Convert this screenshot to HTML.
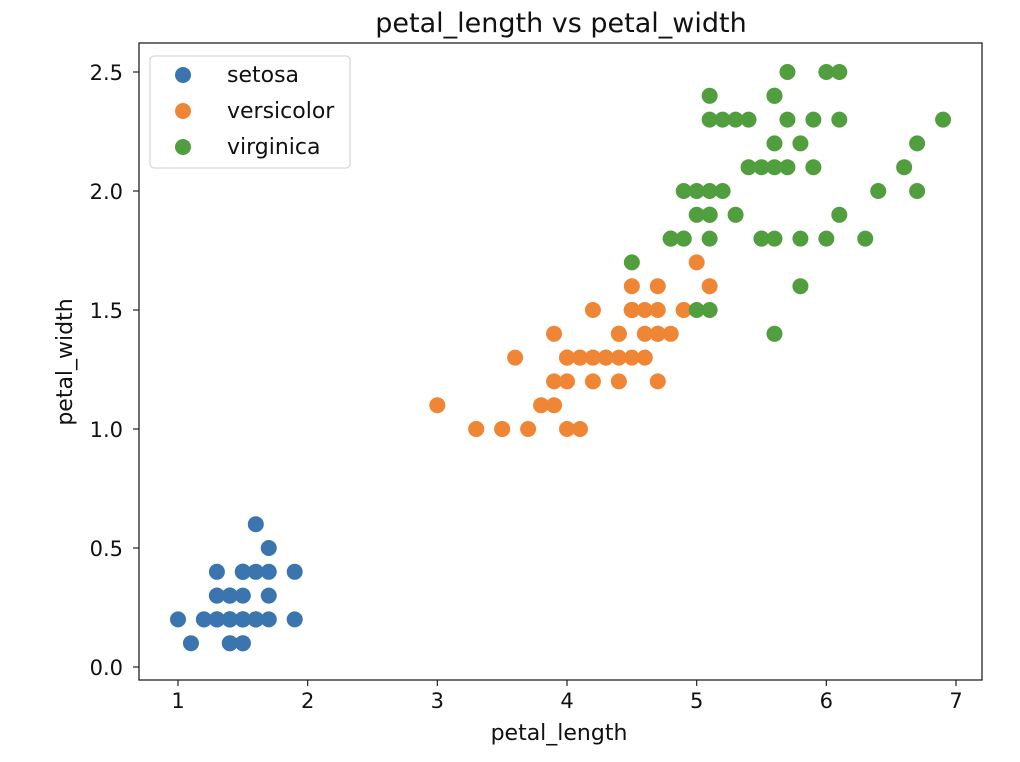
<!DOCTYPE html>
<html><head><meta charset="utf-8"><style>
body{margin:0;background:#fff;}
svg{display:block;font-family:"DejaVu Sans","Liberation Sans",sans-serif;}
</style></head><body>
<svg id="chart" width="1020" height="762">
<rect x="0" y="0" width="1020" height="762" fill="#fff"/>
<text x="561" y="32" font-size="27" text-anchor="middle" fill="#111">petal_length vs petal_width</text>
<g id="marks"></g>
<rect x="139" y="43" width="843" height="637" fill="none" stroke="#222" stroke-width="1.3"/>
<g id="xticks"></g><g id="yticks"></g>
<text x="559" y="740" font-size="22" text-anchor="middle" fill="#111">petal_length</text>
<text x="0" y="0" font-size="22" text-anchor="middle" fill="#111" transform="translate(72,362) rotate(-90)">petal_width</text>
<g>
<rect x="150" y="56" width="200" height="112" rx="4" fill="#fff" fill-opacity="0.85" stroke="#ccc"/>
<circle cx="183" cy="75" r="8" fill="#3a75b0"/><text x="227" y="82" font-size="22" fill="#111">setosa</text>
<circle cx="183" cy="111" r="8" fill="#ef8636"/><text x="227" y="118" font-size="22" fill="#111">versicolor</text>
<circle cx="183" cy="147" r="8" fill="#519e3e"/><text x="227" y="154" font-size="22" fill="#111">virginica</text>
</g>
</svg>
<script>
const xTicks=[1,2,3,4,5,6,7];
const yTicks=[0.0,0.5,1.0,1.5,2.0,2.5];
const setosaX=[1.4,1.4,1.3,1.5,1.4,1.7,1.4,1.5,1.4,1.5,1.5,1.6,1.4,1.1,1.2,1.5,1.3,1.4,1.7,1.5,1.7,1.5,1.0,1.7,1.9,1.6,1.6,1.5,1.4,1.6,1.6,1.5,1.5,1.4,1.5,1.2,1.3,1.4,1.3,1.5,1.3,1.3,1.3,1.6,1.9,1.4,1.6,1.4,1.5,1.4];
const setosaY=[0.2,0.2,0.2,0.2,0.2,0.4,0.3,0.2,0.2,0.1,0.2,0.2,0.1,0.1,0.2,0.4,0.4,0.3,0.3,0.3,0.2,0.4,0.2,0.5,0.2,0.2,0.4,0.2,0.2,0.2,0.2,0.4,0.1,0.2,0.2,0.2,0.2,0.1,0.2,0.2,0.3,0.3,0.2,0.6,0.4,0.3,0.2,0.2,0.2,0.2];
const versicolorX=[4.7,4.5,4.9,4.0,4.6,4.5,4.7,3.3,4.6,3.9,3.5,4.2,4.0,4.7,3.6,4.4,4.5,4.1,4.5,3.9,4.8,4.0,4.9,4.7,4.3,4.4,4.8,5.0,4.5,3.5,3.8,3.7,3.9,5.1,4.5,4.5,4.7,4.4,4.1,4.0,4.4,4.6,4.0,3.3,4.2,4.2,4.2,4.3,3.0,4.1];
const versicolorY=[1.4,1.5,1.5,1.3,1.5,1.3,1.6,1.0,1.3,1.4,1.0,1.5,1.0,1.4,1.3,1.4,1.5,1.0,1.5,1.1,1.8,1.3,1.5,1.2,1.3,1.4,1.4,1.7,1.5,1.0,1.1,1.0,1.2,1.6,1.5,1.6,1.5,1.3,1.3,1.3,1.2,1.4,1.2,1.0,1.3,1.2,1.3,1.3,1.1,1.3];
const virginicaX=[6.0,5.1,5.9,5.6,5.8,6.6,4.5,6.3,5.8,6.1,5.1,5.3,5.5,5.0,5.1,5.3,5.5,6.7,6.9,5.0,5.7,4.9,6.7,4.9,5.7,6.0,4.8,4.9,5.6,5.8,6.1,6.4,5.6,5.1,5.6,6.1,5.6,5.5,4.8,5.4,5.6,5.1,5.1,5.9,5.7,5.2,5.0,5.2,5.4,5.1];
const virginicaY=[2.5,1.9,2.1,1.8,2.2,2.1,1.7,1.8,1.8,2.5,2.0,1.9,2.1,2.0,2.4,2.3,1.8,2.2,2.3,1.5,2.3,2.0,2.0,1.8,2.1,1.8,1.8,1.8,2.1,1.6,1.9,2.0,2.2,1.5,1.4,2.3,2.4,1.8,1.8,2.1,2.4,2.3,1.9,2.3,2.5,2.3,1.9,2.0,2.3,1.8];
const NS='http://www.w3.org/2000/svg';
function xs(v){return 178+(v-1)*129.67;}
function ys(v){return 667-v*238;}
function mk(tag,attrs,parent){const e=document.createElementNS(NS,tag);for(const k in attrs)e.setAttribute(k,attrs[k]);parent.appendChild(e);return e;}
const marks=document.getElementById('marks');
const series=[[setosaX,setosaY,'#3a75b0','setosa'],[versicolorX,versicolorY,'#ef8636','versicolor'],[virginicaX,virginicaY,'#519e3e','virginica']];
series.forEach(s=>{
  for(let i=0;i<s[0].length;i++){
    const c=mk('circle',{cx:xs(s[0][i]),cy:ys(s[1][i]),r:8,fill:s[2]},marks);
    
    
  }
});
const xg=document.getElementById('xticks');
xTicks.forEach(t=>{
  mk('line',{x1:xs(t),x2:xs(t),y1:680,y2:686,stroke:'#222','stroke-width':1.2},xg);
  const tx=mk('text',{x:xs(t),y:708,'font-size':21,'text-anchor':'middle',fill:'#111'},xg);
  tx.textContent=String(t);
  
  
});
const yg=document.getElementById('yticks');
yTicks.forEach(t=>{
  mk('line',{x1:133,x2:139,y1:ys(t),y2:ys(t),stroke:'#222','stroke-width':1.2},yg);
  const tx=mk('text',{x:123,y:ys(t)+8,'font-size':21,'text-anchor':'end',fill:'#111'},yg);
  tx.textContent=t.toFixed(1);
  
  
});
</script>
</body></html>
